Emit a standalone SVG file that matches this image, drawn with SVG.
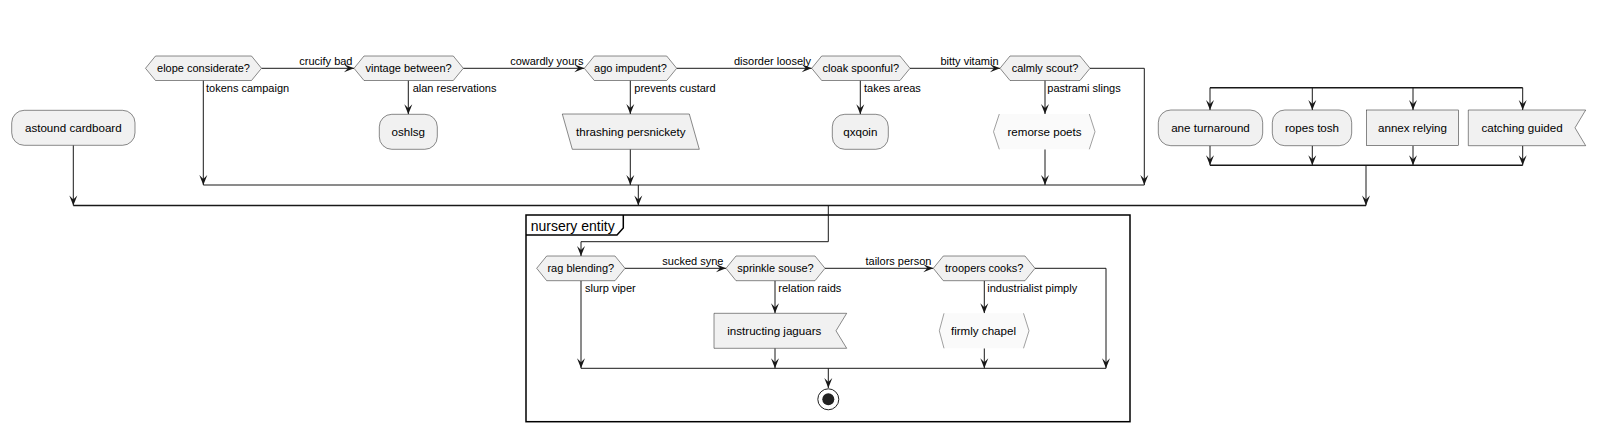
<svg xmlns="http://www.w3.org/2000/svg" width="1606" height="432" viewBox="0 0 1606 432">
<style>
text{font-family:"Liberation Sans",Arial,sans-serif;fill:#000}
.n{fill:#F1F1F1;stroke:#181818;stroke-width:0.5}
.t12{font-size:11.6px;text-anchor:middle}
.t11{font-size:11px;text-anchor:middle}
.lbl{font-size:11px}
.e{fill:none;stroke:#181818;stroke-width:1}
.a{fill:none;stroke:#181818;stroke-width:1;marker-end:url(#arr)}
.bar{fill:none;stroke:#181818;stroke-width:1.5}
.br{fill:none;stroke:#888;stroke-width:0.8}
</style>
<defs>
<marker id="arr" viewBox="-11 -5 12 10" refX="0" refY="0" markerWidth="12" markerHeight="10" markerUnits="userSpaceOnUse" orient="auto">
<path d="M0,0 L-10,-4 L-6,0 L-10,4 Z" fill="#181818"/>
</marker>
</defs>
<rect width="1606" height="432" fill="#FFFFFF"/>

<g id="frame-nursery">
<rect x="526" y="215" width="604" height="206.7" fill="none" stroke="#000" stroke-width="1.5"/>
<path d="M526,235 H617 L623.3,228 V215" fill="none" stroke="#000" stroke-width="1.5"/>
<text x="530.7" y="231" style="font-size:14px">nursery entity</text>
</g>

<g id="connectors">
<path class="a" d="M261.5,68.3 H354"/>
<path class="a" d="M203.3,80.5 V185"/>
<path class="a" d="M463.3,68.3 H584.3"/>
<path class="a" d="M408.3,80.5 V114.3"/>
<path class="a" d="M676.7,68.3 H811.7"/>
<path class="a" d="M630.3,80.5 V114"/>
<path class="a" d="M630.3,149.3 V185"/>
<path class="a" d="M910,68.3 H1000"/>
<path class="a" d="M860.3,80.5 V114.3"/>
<path class="a" d="M1045,80.5 V114"/>
<path class="a" d="M1045,149.3 V185"/>
<path class="a" d="M1090,68.3 H1144.3 V185"/>
<path class="e" d="M203.3,185 H1144.3"/>
<path class="a" d="M638.3,185 V205.5"/>
<path class="a" d="M73.3,145.3 V205.5"/>
<path class="bar" d="M73.3,205.5 H1366"/>
<path class="bar" d="M1210,87.7 H1522.7"/>
<path class="a" d="M1210,87.7 V110"/>
<path class="a" d="M1312.3,87.7 V110"/>
<path class="a" d="M1413,87.7 V110"/>
<path class="a" d="M1522.7,87.7 V110"/>
<path class="a" d="M1210,145.7 V165.3"/>
<path class="a" d="M1312.3,145.7 V165.3"/>
<path class="a" d="M1413,145.7 V165.3"/>
<path class="a" d="M1522.7,145.7 V165.3"/>
<path class="bar" d="M1210,165.3 H1522.7"/>
<path class="a" d="M1366,165.3 V205.5"/>
<path class="a" d="M828.3,205.5 V241.7 H581 V256"/>
<path class="a" d="M625,268.3 H726"/>
<path class="a" d="M581,280.7 V368.3"/>
<path class="a" d="M775,280.7 V313.3"/>
<path class="a" d="M775,348.3 V368.3"/>
<path class="a" d="M825,268.3 H933.3"/>
<path class="a" d="M984.3,280.7 V313.3"/>
<path class="a" d="M984.3,348.3 V368.3"/>
<path class="a" d="M1035,268.3 H1106 V368.3"/>
<path class="e" d="M581,368.3 H1106"/>
<path class="a" d="M828.3,368.3 V388"/>
<text class="lbl" x="352.5" y="65" text-anchor="end">crucify bad</text>
<text class="lbl" x="206" y="91.7">tokens campaign</text>
<text class="lbl" x="412.7" y="91.7">alan reservations</text>
<text class="lbl" x="583.5" y="65" text-anchor="end">cowardly yours</text>
<text class="lbl" x="634.3" y="91.7">prevents custard</text>
<text class="lbl" x="811" y="65" text-anchor="end">disorder loosely</text>
<text class="lbl" x="864" y="91.7">takes areas</text>
<text class="lbl" x="998.5" y="65" text-anchor="end">bitty vitamin</text>
<text class="lbl" x="1047.3" y="91.7">pastrami slings</text>
<text class="lbl" x="723.5" y="265" text-anchor="end">sucked syne</text>
<text class="lbl" x="585" y="291.7">slurp viper</text>
<text class="lbl" x="778.3" y="291.7">relation raids</text>
<text class="lbl" x="931.5" y="265" text-anchor="end">tailors person</text>
<text class="lbl" x="987.3" y="291.7">industrialist pimply</text>
</g>

<g id="astound-cardboard">
<rect class="n" x="11.7" y="110.3" width="123.3" height="35" rx="12.5"/>
<text class="t12" x="73.3" y="132.3">astound cardboard</text>
</g>
<g id="elope-considerate">
<polygon class="n" points="145.5,68.3 155.5,56 251.5,56 261.5,68.3 251.5,80.5 155.5,80.5"/>
<text class="t11" x="203.5" y="72.3">elope considerate?</text>
</g>
<g id="vintage-between">
<polygon class="n" points="354,68.3 364,56 453.3,56 463.3,68.3 453.3,80.5 364,80.5"/>
<text class="t11" x="408.6" y="72.3">vintage between?</text>
</g>
<g id="oshlsg">
<rect class="n" x="379.3" y="114.3" width="58" height="35" rx="12.5"/>
<text class="t12" x="408.3" y="136.3">oshlsg</text>
</g>
<g id="ago-impudent">
<polygon class="n" points="584.3,68.3 594.3,56 666.7,56 676.7,68.3 666.7,80.5 594.3,80.5"/>
<text class="t11" x="630.5" y="72.3">ago impudent?</text>
</g>
<g id="thrashing-persnickety">
<polygon class="n" points="562.3,114 689.3,114 699.3,149.3 572.3,149.3"/>
<text class="t12" x="630.8" y="136.3">thrashing persnickety</text>
</g>
<g id="cloak-spoonful">
<polygon class="n" points="811.7,68.3 821.7,56 900,56 910,68.3 900,80.5 821.7,80.5"/>
<text class="t11" x="860.8" y="72.3">cloak spoonful?</text>
</g>
<g id="qxqoin">
<rect class="n" x="832.3" y="114.3" width="56" height="35" rx="12.5"/>
<text class="t12" x="860.3" y="136.3">qxqoin</text>
</g>
<g id="calmly-scout">
<polygon class="n" points="1000,68.3 1010,56 1080,56 1090,68.3 1080,80.5 1010,80.5"/>
<text class="t11" x="1045" y="72.3">calmly scout?</text>
</g>
<g id="remorse-poets">
<polygon points="999.3,114 1089.3,114 1095,131.7 1089.3,149.3 999.3,149.3 993.5,131.7" fill="#FAFAFA"/>
<polyline class="br" points="999.3,114 993.5,131.7 999.3,149.3"/>
<polyline class="br" points="1089.3,114 1095,131.7 1089.3,149.3"/>
<text class="t12" x="1044.5" y="136.3">remorse poets</text>
</g>
<g id="ane-turnaround">
<rect class="n" x="1158.3" y="110" width="104.4" height="35.7" rx="12.5"/>
<text class="t12" x="1210.5" y="132.3">ane turnaround</text>
</g>
<g id="ropes-tosh">
<rect class="n" x="1272.3" y="110" width="79.4" height="35.7" rx="12.5"/>
<text class="t12" x="1312" y="132.3">ropes tosh</text>
</g>
<g id="annex-relying">
<rect class="n" x="1366.3" y="110" width="92.4" height="35.7"/>
<text class="t12" x="1412.5" y="132.3">annex relying</text>
</g>
<g id="catching-guided">
<polygon class="n" points="1468.3,110 1585.7,110 1575,127.8 1585.7,145.7 1468.3,145.7"/>
<text class="t12" x="1522" y="132.3">catching guided</text>
</g>
<g id="rag-blending">
<polygon class="n" points="536.7,268.3 546.7,256 615,256 625,268.3 615,280.7 546.7,280.7"/>
<text class="t11" x="580.8" y="272.3">rag blending?</text>
</g>
<g id="sprinkle-souse">
<polygon class="n" points="726,268.3 736,256 815,256 825,268.3 815,280.7 736,280.7"/>
<text class="t11" x="775.5" y="272.3">sprinkle souse?</text>
</g>
<g id="instructing-jaguars">
<polygon class="n" points="714,313.3 846.7,313.3 836,330.8 846.7,348.3 714,348.3"/>
<text class="t12" x="774.3" y="335">instructing jaguars</text>
</g>
<g id="troopers-cooks">
<polygon class="n" points="933.3,268.3 943.3,256 1025,256 1035,268.3 1025,280.7 943.3,280.7"/>
<text class="t11" x="984.2" y="272.3">troopers cooks?</text>
</g>
<g id="firmly-chapel">
<polygon points="944,313.3 1023.5,313.3 1029,330.8 1023.5,348.3 944,348.3 939.3,330.8" fill="#FAFAFA"/>
<polyline class="br" points="944,313.3 939.3,330.8 944,348.3"/>
<polyline class="br" points="1023.5,313.3 1029,330.8 1023.5,348.3"/>
<text class="t12" x="983.5" y="335">firmly chapel</text>
</g>
<g id="end">
<circle cx="828.3" cy="399.3" r="10.5" fill="none" stroke="#222" stroke-width="1"/>
<circle cx="828.3" cy="399.3" r="6" fill="#222"/>
</g>
</svg>
